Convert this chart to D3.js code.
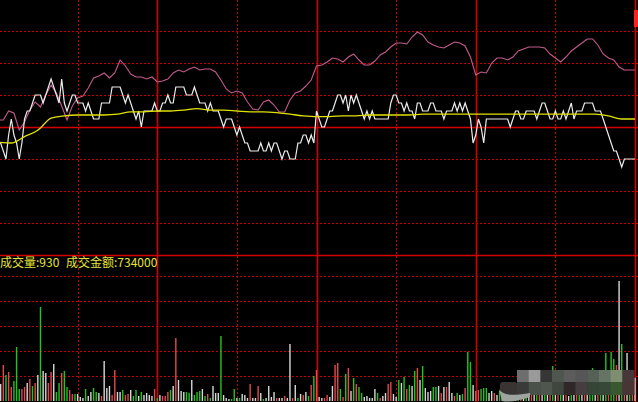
<!DOCTYPE html>
<html>
<head>
<meta charset="utf-8">
<script src="https://cdnjs.cloudflare.com/ajax/libs/d3/7.8.5/d3.min.js"></script>
<style>
  body { margin: 0; background: #000; }
  svg { display: block; background: #000; }
  .grid-dash { stroke: #c80000; stroke-width: 1; stroke-dasharray: 2,2; shape-rendering: crispEdges; }
  .grid-solid { stroke: #d40000; stroke-width: 1.6; }
  .line { fill: none; }
</style>
</head>
<body>
<svg width="638" height="402"></svg>
<script>

// ---- data ----
var prevClose = 7.93;
var indexBase = 3200;

// last price, one value per minute (241 minutes)
var prices = [
  7.91,7.91,7.90,7.89,7.92,7.94,7.92,7.91,7.89,7.91,7.94,
  7.95,7.95,7.96,7.97,7.97,7.97,7.96,7.97,7.98,7.99,
  7.98,7.97,7.96,7.99,7.96,7.95,7.96,7.97,7.97,7.96,
  7.96,7.96,7.95,7.96,7.95,7.94,7.94,7.94,7.96,7.96,
  7.96,7.96,7.98,7.98,7.98,7.98,7.97,7.96,7.97,7.96,
  7.95,7.94,7.95,7.93,7.95,7.95,7.95,7.95,7.96,7.95,
  7.95,7.96,7.96,7.97,7.96,7.96,7.98,7.98,7.98,7.98,
  7.97,7.97,7.97,7.98,7.97,7.96,7.96,7.96,7.95,7.96,
  7.95,7.95,7.95,7.94,7.93,7.94,7.94,7.94,7.93,7.92,
  7.93,7.92,7.91,7.91,7.90,7.90,7.90,7.90,7.91,7.90,
  7.90,7.91,7.90,7.91,7.91,7.90,7.89,7.90,7.90,7.89,
  7.89,7.89,7.91,7.91,7.92,7.92,7.91,7.92,7.91,7.95,
  7.94,7.93,7.93,7.94,7.95,7.95,7.96,7.97,7.97,7.96,
  7.97,7.95,7.97,7.96,7.97,7.96,7.95,7.94,7.95,7.94,
  7.95,7.94,7.94,7.94,7.94,7.94,7.94,7.96,7.97,7.97,
  7.96,7.96,7.95,7.96,7.95,7.95,7.94,7.96,7.96,7.95,
  7.95,7.95,7.96,7.96,7.95,7.95,7.95,7.94,7.95,7.95,
  7.95,7.96,7.95,7.96,7.95,7.96,7.95,7.94,7.91,7.92,
  7.94,7.93,7.91,7.94,7.94,7.94,7.94,7.94,7.94,7.94,
  7.94,7.94,7.93,7.94,7.95,7.95,7.94,7.94,7.95,7.95,
  7.95,7.95,7.94,7.95,7.96,7.96,7.95,7.94,7.94,7.95,
  7.94,7.94,7.95,7.94,7.95,7.96,7.94,7.95,7.95,7.95,
  7.96,7.96,7.96,7.96,7.95,7.95,7.95,7.94,7.93,7.92,
  7.91,7.90,7.90,7.89,7.88,7.89,7.89,7.89,7.89,7.89
];

// average price, read every 5 minutes
var avgStep = 5;
var avgPrices = [
  7.911,7.910,7.918,7.926,7.941,7.944,7.945,7.945,7.945,7.946,
  7.949,7.949,7.950,7.950,7.951,7.953,7.951,7.951,7.950,7.949,
  7.949,7.948,7.946,7.944,7.943,7.943,7.944,7.944,7.945,7.945,
  7.945,7.945,7.946,7.946,7.946,7.946,7.946,7.946,7.946,7.946,
  7.946,7.946,7.946,7.946,7.946,7.946,7.944,7.940,7.940
];

// market index overlay, read every 2 minutes
var indexStep = 2;
var indexValues = [
  3203.5,3203.5,3208,3207,3198.5,3202.5,3208.5,3212.5,3210,3216,
  3221,3217,3210.5,3203.5,3210.5,3214.5,3215.5,3219.5,3224.5,3225.5,
  3227,3224.5,3227,3233.5,3230.5,3226.5,3225,3225,3224,3225,
  3222.5,3223,3224,3227,3228.5,3227.5,3229,3230,3228.5,3229,
  3229,3227.5,3223.5,3219,3217,3218,3217,3212.5,3209,3208.5,
  3212.5,3213.5,3211,3207.5,3207.5,3213.5,3217,3218,3220.5,3223.5,
  3230.5,3231,3232.5,3234.5,3234,3232.5,3235,3236.5,3233.5,3231,
  3231,3233,3236,3237.5,3240,3242,3242,3241.5,3245,3247.5,
  3246,3242.5,3241,3240,3239.5,3241,3242.5,3242,3240.5,3235,
  3226,3227.5,3227,3232,3234.5,3234.5,3233.5,3235,3238,3239,
  3240,3240,3240,3239.5,3236.5,3234.5,3232.5,3235,3238,3240,
  3242,3244,3244,3241,3236.5,3234.5,3233.5,3230,3228.5,3228.5,
  3228.5
];

// volume per minute (lots)
var volumes = [
  600,680,1440,1040,1160,560,800,2160,480,480,560,
  720,880,600,720,1040,3760,1200,1120,720,1160,
  1480,360,720,1120,1200,560,440,280,280,280,
  160,120,480,200,360,520,360,320,200,1600,
  520,600,240,1240,360,360,440,240,280,440,
  200,440,200,360,240,320,240,200,480,120,
  240,200,200,360,440,600,2520,840,400,360,
  360,320,840,240,360,400,480,200,280,120,
  600,320,320,2600,240,120,80,80,480,120,
  120,280,240,120,680,120,120,600,320,80,
  120,600,160,360,120,120,120,200,120,2280,
  120,640,120,280,240,360,200,640,1000,1240,
  160,120,120,240,160,600,1440,1520,480,160,
  1080,1320,400,920,680,560,320,160,200,120,
  120,480,320,120,200,320,680,760,280,160,
  840,720,960,480,640,600,1200,1320,840,1400,
  520,360,400,560,560,600,320,560,560,760,
  320,200,320,240,280,520,1960,1560,640,400,
  440,480,520,520,320,400,320,240,400,280,
  200,360,440,240,320,280,400,200,360,280,
  440,240,320,520,280,360,240,400,1400,320,
  240,360,280,440,200,320,400,280,360,240,
  440,320,600,1320,400,520,640,800,1920,1200,
  1960,1680,1440,4800,2280,1000,1920,720,600,930
];

// bar colour per minute: r = up tick, g = down tick, w = unchanged
var volumeSides = (
  "wwrgrrgggrr" +
  "wrgrwgwwrr" +
  "wggrggrrgw" +
  "wwgwwggwrw" +
  "wwrrwwgrrw" +
  "ggwgwwwwrg" +
  "wrrrgwrwww" +
  "ggwgggwgrg" +
  "wwwgwwwggw" +
  "gwwwrwwrwg" +
  "wwwwrwwrww" +
  "rwgwrwgrgr" +
  "wwrrwwrrgr" +
  "grwgrggwww" +
  "wwgrwwrrww" +
  "gwgrgwgrwg" +
  "wwwggwrwrw" +
  "wrgwgrggwr" +
  "rgggwwrwgw" +
  "rwgrwgrwgw" +
  "rwgrwgwrgw" +
  "rgwrwgwrgw" +
  "rwggwrgwgr" +
  "ggrwgrwgrw"
).split("");

var volumeTicks = [1000, 2000, 3000, 4000, 5000];
var labelVolume = "成交量:930";
var labelAmount = "成交金额:734000";

// ---- layout ----
var svg = d3.select("svg"),
    width = +svg.attr("width"),
    height = +svg.attr("height");

var x = d3.scaleLinear().domain([0, 240]).range([-2, 635]);

var priceTop = -1, priceBottom = 255;
var yPrice = d3.scaleLinear()
        .domain([prevClose - 0.16, prevClose + 0.16])
        .range([priceBottom, priceTop]);
var yIndex = d3.scaleLinear()
        .domain([indexBase - 64, indexBase + 64])
        .range([priceBottom, priceTop]);
var yVol = d3.scaleLinear().domain([0, 5800]).range([401, 256]);

var grid = svg.append("g").attr("class", "grid");

// horizontal grid of the price panel: 4 steps of 0.04 each way
d3.range(-3, 4).forEach(function (k) {
    var yy = Math.round(yPrice(prevClose + k * 0.04)) + 0.5;
    grid.append("line")
        .attr("class", k === 0 ? "grid-solid" : "grid-dash")
        .attr("x1", 0).attr("x2", width)
        .attr("y1", yy).attr("y2", yy);
});

// horizontal grid of the volume panel
volumeTicks.forEach(function (v) {
    var yy = Math.round(yVol(v)) + 0.5;
    grid.append("line")
        .attr("class", "grid-dash")
        .attr("x1", 0).attr("x2", width)
        .attr("y1", yy).attr("y2", yy);
});

// vertical grid: every 30 minutes, solid on the hour
d3.range(30, 241, 30).forEach(function (m) {
    var xx = Math.round(x(m)) + 0.5;
    grid.append("line")
        .attr("class", m % 60 === 0 ? "grid-solid" : "grid-dash")
        .attr("x1", xx).attr("x2", xx)
        .attr("y1", 0).attr("y2", height);
});

// panel separator
grid.append("line")
    .attr("class", "grid-solid")
    .attr("x1", 0).attr("x2", width)
    .attr("y1", priceBottom + 0.5).attr("y2", priceBottom + 0.5);

// ---- lines ----
svg.append("path")
    .datum(indexValues)
    .attr("class", "line")
    .attr("stroke", "#c45a8c")
    .attr("stroke-width", 1.1)
    .attr("d", d3.line()
        .x(function (d, i) { return x(i * indexStep); })
        .y(function (d) { return yIndex(d); }));

svg.append("path")
    .datum(prices)
    .attr("class", "line")
    .attr("stroke", "#ececec")
    .attr("stroke-width", 1.2)
    .attr("d", d3.line()
        .x(function (d, i) { return x(i); })
        .y(function (d) { return yPrice(d); }));

svg.append("path")
    .datum(avgPrices)
    .attr("class", "line")
    .attr("stroke", "#e2e200")
    .attr("stroke-width", 1.3)
    .attr("d", d3.line()
        .curve(d3.curveMonotoneX)
        .x(function (d, i) { return x(i * avgStep); })
        .y(function (d) { return yPrice(d); }));

// ---- volume bars ----
var sideColor = { r: "#e4484a", g: "#22c422", w: "#d6d6d6" };

svg.append("g").selectAll("rect")
    .data(volumes)
    .enter().append("rect")
    .attr("x", function (d, i) { return x(i) - 0.7; })
    .attr("width", 1.4)
    .attr("y", function (d) { return yVol(d); })
    .attr("height", function (d) { return yVol(0) - yVol(d); })
    .attr("fill", function (d, i) { return sideColor[volumeSides[i]] || sideColor.w; });

// ---- texts ----
svg.append("text")
    .attr("x", 0).attr("y", 267)
    .attr("fill", "#e4e43a")
    .style("font", "12px 'Noto Sans CJK SC', sans-serif")
    .text(labelVolume);

svg.append("text")
    .attr("x", 66).attr("y", 267)
    .attr("fill", "#e4e43a")
    .style("font", "12px 'Noto Sans CJK SC', sans-serif")
    .text(labelAmount);

// scroll marker on the right edge
svg.append("rect")
    .attr("x", 634).attr("y", 10).attr("width", 4).attr("height", 17)
    .attr("fill", "#ff2020");

// pixelated watermark in the bottom right corner
var mosaic = svg.append("g").attr("class", "mosaic");
var topCells = ["#6e6e6e","#9a9a9a","#363636","#4e564e","#5c5c5c","#565656","#566056","#667466","#7e8e70","#463838"];
var bottomCells = ["#3a3a3a","#4a504a","#4e564e","#3e463e","#302828","#463e3e","#364636","#384838","#385830","#483636"];
topCells.forEach(function (c, i) {
    mosaic.append("rect").attr("x", 517 + i * 11.7).attr("y", 370)
        .attr("width", 12.2).attr("height", 12.5).attr("fill", c);
});
mosaic.append("rect").attr("x", 500).attr("y", 382).attr("width", 17.5).attr("height", 13)
    .attr("rx", 3).attr("fill", "#383434");
bottomCells.forEach(function (c, i) {
    mosaic.append("rect").attr("x", 517 + i * 11.7).attr("y", 382)
        .attr("width", 12.2).attr("height", 13).attr("fill", c);
});
mosaic.append("path")
    .attr("d", "M499,389 Q503,398 530,393 L530,397 Q512,403 502,401 Z")
    .attr("fill", "#9ea49e");

</script>
</body>
</html>
